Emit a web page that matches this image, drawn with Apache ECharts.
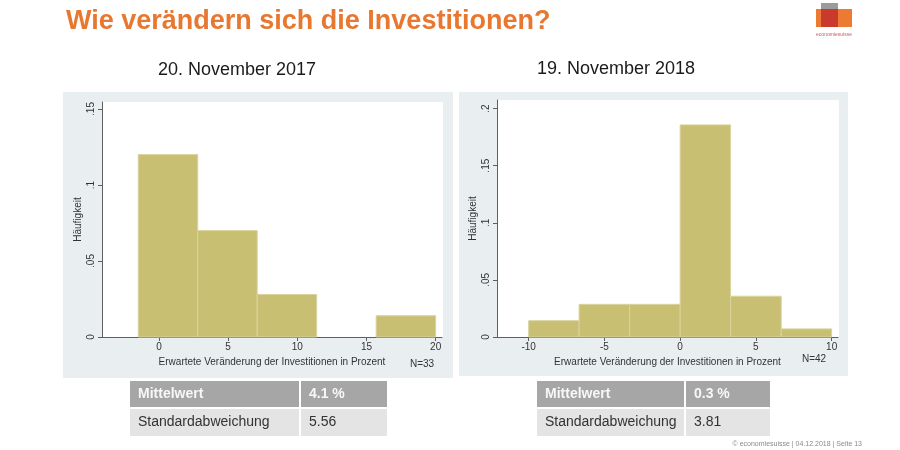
<!DOCTYPE html>
<html><head><meta charset="utf-8">
<script src="https://cdn.jsdelivr.net/npm/echarts@6/dist/echarts.min.js"></script>
<style>html,body{margin:0;padding:0;background:#fff}#c{width:900px;height:450px}</style>
</head><body><div id="c"></div>
<script>
// ---- data ----
const edges2017 = [-1.5, 2.8, 7.1, 11.4, 15.7, 20];
const density2017 = [0.12, 0.07, 0.028, 0, 0.014];
const edges2018 = [-10, -6.67, -3.33, 0, 3.33, 6.67, 10];
const density2018 = [0.0143, 0.0286, 0.0286, 0.1857, 0.0357, 0.0071];
const xTicks2017 = [0, 5, 10, 15, 20];
const xTicks2018 = [-10, -5, 0, 5, 10];
const yTicks2017 = [0, 0.05, 0.1, 0.15];
const yTicks2018 = [0, 0.05, 0.1, 0.15, 0.2];
const mainTitle = 'Wie verändern sich die Investitionen?';
const panelTitles = ['20. November 2017', '19. November 2018'];
const nLabels = ['N=33', 'N=42'];
const yName = 'Häufigkeit';
const xName = 'Erwartete Veränderung der Investitionen in Prozent';
const statLabels = ['Mittelwert', 'Standardabweichung'];
const stats2017 = ['4.1 %', '5.56'];
const stats2018 = ['0.3 %', '3.81'];
const footer = '© economiesuisse | 04.12.2018 | Seite 13';

const FONT = '"Liberation Sans", Arial, sans-serif';
const BAR = '#c8bf72';
const BAR_EDGE = '#d9d39f';
const PANEL = '#e9eff1';
const AXIS = '#5f5f5f';

const GRID1 = { left: 102, top: 102, width: 340, height: 235 };
const GRID2 = { left: 497, top: 100, width: 341, height: 237 };

function bins(edges, dens) { return dens.map((d, i) => [edges[i], edges[i + 1], d]); }
function yFmt(v) {
  if (Math.abs(v) < 1e-9) return '0';
  return String(Math.round(v * 100) / 100).replace(/^0/, '');
}
function renderBin(params, api) {
  if (!(api.value(2) > 0)) return null;
  const p0 = api.coord([api.value(0), api.value(2)]);
  const p1 = api.coord([api.value(1), 0]);
  return {
    type: 'rect',
    shape: { x: p0[0], y: p0[1], width: p1[0] - p0[0], height: p1[1] - p0[1] },
    style: { fill: BAR, stroke: BAR_EDGE, lineWidth: 1 }
  };
}
function xAxisDef(idx, min, max, ticks) {
  return {
    type: 'value', gridIndex: idx, min: min, max: max,
    name: xName, nameLocation: 'middle', nameGap: 16,
    nameTextStyle: { fontFamily: FONT, fontSize: 10, color: '#333' },
    axisLine: { show: true, onZero: false, lineStyle: { color: AXIS, width: 1 } },
    axisTick: { show: true, length: 4, customValues: ticks, lineStyle: { color: AXIS } },
    axisLabel: { customValues: ticks, margin: 5, fontFamily: FONT, fontSize: 10, color: '#333' },
    splitLine: { show: false }
  };
}
function yAxisDef(idx, max, ticks) {
  return {
    type: 'value', gridIndex: idx, min: 0, max: max, interval: 0.05,
    name: yName, nameLocation: 'middle', nameGap: 19, nameRotate: 90,
    nameTextStyle: { fontFamily: FONT, fontSize: 10, color: '#333' },
    axisLine: { show: true, onZero: false, lineStyle: { color: AXIS, width: 1 } },
    axisTick: { show: true, length: 4, customValues: ticks, lineStyle: { color: AXIS } },
    axisLabel: { customValues: ticks, rotate: 90, margin: 6, fontFamily: FONT, fontSize: 10, color: '#333', formatter: yFmt },
    splitLine: { show: true, showMaxLine: false, lineStyle: { color: '#dde7ea', width: 1 } }
  };
}

function table(x0, w1, w2, vals) {
  const els = [];
  const rows = [{ y: 381, h: 26, bg: '#a6a6a6', col: '#f7f7f7', weight: 'bold' },
                { y: 409, h: 27, bg: '#e4e4e4', col: '#333333', weight: 'normal' }];
  rows.forEach((r, i) => {
    els.push({ type: 'rect', shape: { x: x0, y: r.y, width: w1, height: r.h }, style: { fill: r.bg } });
    els.push({ type: 'rect', shape: { x: x0 + w1 + 2, y: r.y, width: w2, height: r.h }, style: { fill: r.bg } });
    els.push({ type: 'text', z2: 5, x: x0 + 8, y: r.y + r.h / 2, style: { text: statLabels[i], fill: r.col, font: r.weight + ' 14px ' + FONT, verticalAlign: 'middle' } });
    els.push({ type: 'text', z2: 5, x: x0 + w1 + 10, y: r.y + r.h / 2, style: { text: vals[i], fill: r.col, font: r.weight + ' 14px ' + FONT, verticalAlign: 'middle' } });
  });
  return els;
}

const elements = [
  { type: 'rect', z2: 0, shape: { x: 63, y: 92, width: 390, height: 286 }, style: { fill: PANEL } },
  { type: 'rect', z2: 0, shape: { x: 459, y: 92, width: 389, height: 284 }, style: { fill: PANEL } },
  { type: 'rect', z2: 1, shape: { x: GRID1.left, y: GRID1.top, width: GRID1.width + 1, height: GRID1.height }, style: { fill: '#ffffff' } },
  { type: 'rect', z2: 1, shape: { x: GRID2.left, y: GRID2.top, width: GRID2.width + 1, height: GRID2.height }, style: { fill: '#ffffff' } },
  { type: 'text', x: 66, y: 22, style: { text: mainTitle, fill: '#e8772f', font: 'bold 27px ' + FONT, verticalAlign: 'middle' } },
  { type: 'text', x: 237, y: 70, style: { text: panelTitles[0], fill: '#1a1a1a', font: '18px ' + FONT, align: 'center', verticalAlign: 'middle' } },
  { type: 'text', x: 616, y: 69, style: { text: panelTitles[1], fill: '#1a1a1a', font: '18px ' + FONT, align: 'center', verticalAlign: 'middle' } },
  { type: 'text', z2: 5, x: 422, y: 364, style: { text: nLabels[0], fill: '#333', font: '10px ' + FONT, align: 'center', verticalAlign: 'middle' } },
  { type: 'text', z2: 5, x: 814, y: 359, style: { text: nLabels[1], fill: '#333', font: '10px ' + FONT, align: 'center', verticalAlign: 'middle' } },
  { type: 'text', x: 862, y: 444, style: { text: footer, fill: '#8a8a8a', font: '7px ' + FONT, align: 'right', verticalAlign: 'middle' } },
  // logo
  { type: 'rect', z2: 1, shape: { x: 821, y: 3, width: 17, height: 24 }, style: { fill: '#9b9b9b' } },
  { type: 'rect', z2: 2, shape: { x: 816, y: 9, width: 36, height: 18 }, style: { fill: '#ec7a33' } },
  { type: 'rect', z2: 3, shape: { x: 821, y: 9, width: 17, height: 18 }, style: { fill: '#c9392e' } },
  { type: 'text', z2: 4, x: 834, y: 35, style: { text: 'economiesuisse', fill: '#d0566a', font: '5px ' + FONT, align: 'center', verticalAlign: 'middle' } }
].concat(table(130, 169, 86, stats2017)).concat(table(537, 147, 84, stats2018));

const chart = echarts.init(document.getElementById('c'), null, { renderer: 'canvas' });
chart.setOption({
  backgroundColor: '#ffffff',
  animation: false,
  graphic: { z: -5, elements: elements },
  grid: [
    Object.assign({ show: false }, GRID1),
    Object.assign({ show: false }, GRID2)
  ],
  xAxis: [xAxisDef(0, -4.12, 20.46, xTicks2017), xAxisDef(1, -12.09, 10.42, xTicks2018)],
  yAxis: [yAxisDef(0, 0.1546, yTicks2017), yAxisDef(1, 0.2075, yTicks2018)],
  series: [
    { type: 'custom', xAxisIndex: 0, yAxisIndex: 0, renderItem: renderBin, encode: { x: [0, 1], y: 2 }, data: bins(edges2017, density2017), silent: true },
    { type: 'custom', xAxisIndex: 1, yAxisIndex: 1, renderItem: renderBin, encode: { x: [0, 1], y: 2 }, data: bins(edges2018, density2018), silent: true }
  ]
});
</script>
</body></html>
